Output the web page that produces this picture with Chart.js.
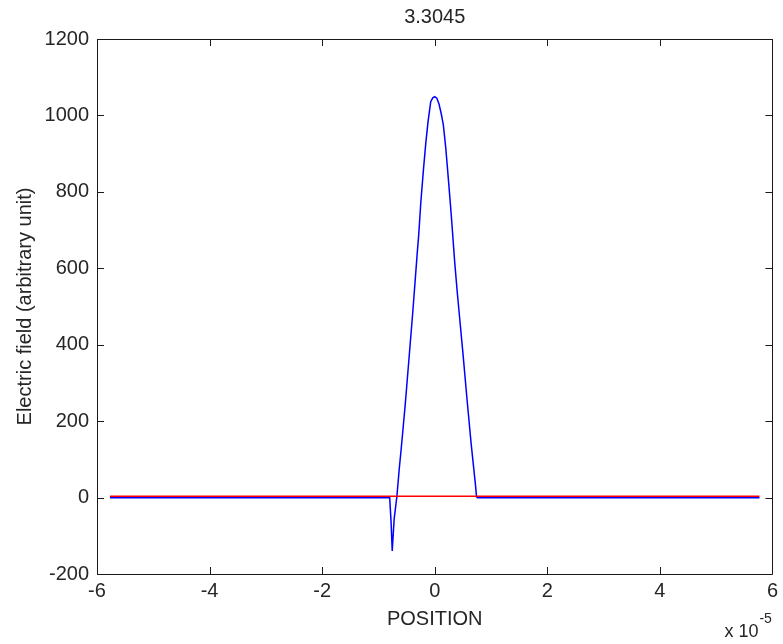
<!DOCTYPE html>
<html>
<head>
<meta charset="utf-8">
<script src="https://cdn.jsdelivr.net/npm/chart.js@4/dist/chart.umd.min.js"></script>
<style>
  html, body { margin: 0; padding: 0; background: #ffffff; }
  #wrap { width: 783px; height: 644px; }
</style>
</head>
<body>
<div id="wrap"><canvas id="c" width="783" height="644"></canvas></div>
<script>
// ---- data (x in units of 1e-5) ----
const chartTitle = "3.3045";
const xTicks = [-6, -4, -2, 0, 2, 4, 6];
const yTicks = [-200, 0, 200, 400, 600, 800, 1000, 1200];

const blueX = [-5.77, -0.80, -0.775, -0.755, -0.72, -0.673, -0.632, -0.591, -0.526, -0.473, -0.437, -0.39, -0.349, -0.308, -0.283, -0.248, -0.201, -0.159, -0.119, -0.071, -0.035, 0.0, 0.038, 0.076, 0.115, 0.153, 0.195, 0.223, 0.271, 0.301, 0.354, 0.40, 0.448, 0.506, 0.577, 0.648, 0.726, 0.743, 0.76, 5.77];
const blueY = [-0.5, -0.5, -65, -140, -55, 2, 72, 135, 240, 335, 400, 485, 565, 645, 690, 770, 857, 927, 983, 1036, 1046, 1049, 1045, 1030, 1005, 975, 917, 868, 782, 725, 618, 538, 462, 370, 252, 140, 30, 2, -0.5, -0.5];

const redX = [-5.77, 5.77];
const redY = [3.5, 3.5];

const toPoints = (xs, ys) => xs.map((x, i) => ({ x: x, y: ys[i] }));

const FONT = "'Liberation Sans', Arial, Helvetica, sans-serif";
const TXT = '#262626';

// box with inward ticks on all four sides, plus exponent label
const boxPlugin = {
  id: 'boxPlugin',
  afterDraw(chart) {
    const ctx = chart.ctx;
    const a = chart.chartArea;
    const xs = chart.scales.x, ys = chart.scales.y;
    const tl = 7;
    ctx.save();
    ctx.strokeStyle = '#1a1a1a';
    ctx.lineWidth = 1;
    ctx.beginPath();
    ctx.rect(Math.round(a.left) + 0.5, Math.round(a.top) + 0.5, Math.round(a.right - a.left), Math.round(a.bottom - a.top));
    ctx.stroke();
    ctx.beginPath();
    xTicks.forEach(v => {
      const px = Math.round(xs.getPixelForValue(v)) + 0.5;
      ctx.moveTo(px, a.bottom); ctx.lineTo(px, a.bottom - tl);
      ctx.moveTo(px, a.top); ctx.lineTo(px, a.top + tl);
    });
    yTicks.forEach(v => {
      const py = Math.round(ys.getPixelForValue(v)) + 0.5;
      ctx.moveTo(a.left, py); ctx.lineTo(a.left + tl, py);
      ctx.moveTo(a.right, py); ctx.lineTo(a.right - tl, py);
    });
    ctx.stroke();
    // exponent label
    ctx.fillStyle = TXT;
    ctx.textBaseline = 'middle';
    ctx.textAlign = 'right';
    ctx.font = '18px ' + FONT;
    ctx.fillText('x 10', a.right - 14, 632);
    ctx.textAlign = 'left';
    ctx.font = '14px ' + FONT;
    ctx.fillText('-5', a.right - 13, 619);
    ctx.restore();
  }
};

new Chart(document.getElementById('c'), {
  type: 'scatter',
  data: {
    datasets: [
      { label: 'red', data: toPoints(redX, redY), showLine: true, borderColor: '#ff0000', borderWidth: 1.5, pointRadius: 0, tension: 0, order: 0 },
      { label: 'blue', data: toPoints(blueX, blueY), showLine: true, borderColor: '#0000ff', borderWidth: 1.5, pointRadius: 0, tension: 0, order: 1 }
    ]
  },
  options: {
    responsive: false,
    animation: false,
    devicePixelRatio: 1,
    layout: { padding: { left: 0, right: 8, top: 0, bottom: 0 } },
    plugins: {
      legend: { display: false },
      tooltip: { enabled: false },
      title: {
        display: true, text: chartTitle, color: TXT, fullSize: false,
        font: { family: FONT, size: 20, weight: 'normal', lineHeight: 1.2 },
        padding: { top: 5, bottom: 10 }
      }
    },
    scales: {
      x: {
        type: 'linear', min: -6, max: 6,
        grid: { display: false, drawTicks: false },
        border: { display: false },
        ticks: { stepSize: 2, color: TXT, padding: 5, font: { family: FONT, size: 20 },
                 callback: v => String(v) },
        title: { display: true, text: 'POSITION', color: TXT, font: { family: FONT, size: 20 }, padding: { top: 0, bottom: 13 } },
        afterFit: s => { s.height = 70; }
      },
      y: {
        type: 'linear', min: -200, max: 1200,
        grid: { display: false, drawTicks: false },
        border: { display: false },
        ticks: { stepSize: 200, color: TXT, padding: 8, font: { family: FONT, size: 20 },
                 callback: v => String(v) },
        title: { display: true, text: 'Electric field (arbitrary unit)', color: TXT, font: { family: FONT, size: 20 }, padding: { top: 13, bottom: 0 } },
        afterFit: s => { s.width = 97; }
      }
    }
  },
  plugins: [boxPlugin]
});
</script>
</body>
</html>
